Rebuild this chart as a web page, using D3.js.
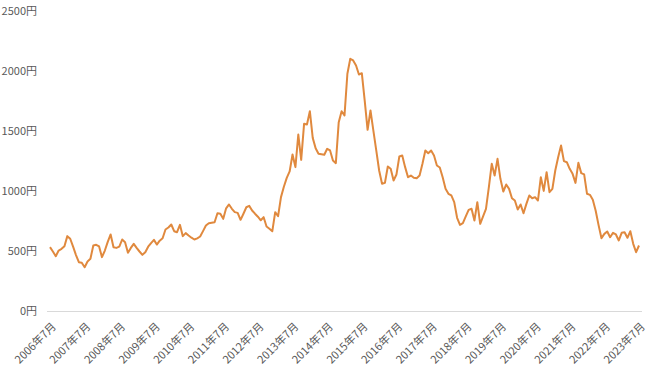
<!DOCTYPE html>
<meta charset="utf-8">
<style>
body { margin: 0; background: #fff; }
svg text { font-family: "Noto Sans CJK JP", "Noto Sans", sans-serif; fill: #595959; }
.line { fill: none; stroke: #E0893E; stroke-width: 2px; stroke-linejoin: round; }
.base { stroke: #D9D9D9; stroke-width: 1px; }
</style>
<svg width="660" height="371"></svg>
<script src="https://d3js.org/d3.v7.min.js"></script>
<script>

// monthly price (円), 2006年7月 .. 2023年7月
var prices = [
  536, 500, 461, 508, 522, 544, 628, 606, 540, 470, 411, 406,
  369, 417, 439, 550, 556, 542, 453, 508, 580, 642, 536, 530,
  540, 600, 578, 489, 530, 564, 530, 500, 472, 494, 540, 570,
  597, 558, 590, 610, 683, 700, 725, 669, 661, 722, 628, 653,
  633, 615, 600, 610, 625, 670, 717, 736, 740, 744, 819, 814,
  772, 860, 892, 856, 828, 822, 764, 815, 869, 880, 842, 815,
  790, 760, 786, 708, 690, 669, 828, 794, 953, 1040, 1114, 1167,
  1308, 1203, 1475, 1264, 1564, 1558, 1669, 1447, 1361, 1314, 1310, 1306,
  1356, 1342, 1258, 1236, 1578, 1669, 1633, 1981, 2106, 2092, 2050, 1975,
  1986, 1758, 1514, 1675, 1508, 1342, 1175, 1064, 1072, 1208, 1189, 1092,
  1142, 1292, 1300, 1203, 1119, 1133, 1114, 1111, 1133, 1231, 1342, 1319,
  1342, 1300, 1217, 1200, 1119, 1022, 981, 967, 911, 781, 722, 736,
  792, 847, 856, 758, 911, 731, 792, 856, 1036, 1231, 1133, 1272,
  1106, 1000, 1058, 1022, 944, 925, 850, 892, 819, 897, 967, 944,
  953, 925, 1119, 1005, 1161, 994, 1022, 1175, 1286, 1383, 1253, 1244,
  1189, 1147, 1072, 1239, 1153, 1142, 981, 972, 931, 840, 720, 611,
  647, 667, 619, 656, 642, 592, 656, 661, 614, 669, 564, 494,
  550
];
var yTicks = [0, 500, 1000, 1500, 2000, 2500];
var xTickLabels = ["2006年7月", "2007年7月", "2008年7月", "2009年7月", "2010年7月", "2011年7月",
  "2012年7月", "2013年7月", "2014年7月", "2015年7月", "2016年7月", "2017年7月",
  "2018年7月", "2019年7月", "2020年7月", "2021年7月", "2022年7月", "2023年7月"];

var svg = d3.select("svg");

var x = d3.scaleLinear()
    .domain([0, prices.length - 1])
    .range([50, 639]);
var y = d3.scaleLinear()
    .domain([0, 2500])
    .range([311.5, 11.5]);

// y labels
svg.append("g")
  .selectAll("text")
  .data(yTicks)
  .enter().append("text")
    .attr("x", 37)
    .attr("y", function(d) { return y(d); })
    .attr("dy", "0.35em")
    .attr("text-anchor", "end")
    .style("font-size", "11px")
    .text(function(d) { return d + "円"; });

// baseline
svg.append("line")
    .attr("class", "base")
    .attr("x1", 47)
    .attr("x2", 642)
    .attr("y1", y(0))
    .attr("y2", y(0));

// x labels, one per year
svg.append("g")
  .selectAll("text")
  .data(xTickLabels)
  .enter().append("text")
    .attr("transform", function(d, i) {
      return "translate(" + (x(i * 12) + 4) + "," + (y(0) + 13) + ") rotate(-45)";
    })
    .attr("text-anchor", "end")
    .attr("dy", "0.35em")
    .style("font-size", "11px")
    .text(function(d) { return d; });

var line = d3.line()
    .x(function(d, i) { return x(i); })
    .y(function(d) { return y(d); });

svg.append("path")
    .datum(prices)
    .attr("class", "line")
    .attr("d", line);

</script>
